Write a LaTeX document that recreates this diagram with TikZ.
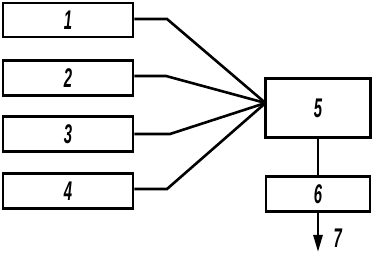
\documentclass[tikz,border=0pt]{standalone}
\usepackage{fontspec}
\setmainfont{Liberation Sans}
\usetikzlibrary{arrows.meta}
\begin{document}
\begin{tikzpicture}[x=1pt,y=-1pt,
  blk/.style={draw,line width=2.6pt,rectangle,inner sep=0pt},
  lbl/.style={font=\fontsize{27}{27}\selectfont\bfseries\itshape},
  con/.style={line width=2.6pt,line join=miter}]
\useasboundingbox (0,0) rectangle (372,253);
\node[blk,minimum width=130pt,minimum height=34pt] (b1) at (68,20) {};
\node[blk,minimum width=130pt,minimum height=35pt] (b2) at (68,78) {};
\node[blk,minimum width=130pt,minimum height=35pt] (b3) at (68,134) {};
\node[blk,minimum width=130pt,minimum height=35pt] (b4) at (68,191) {};
\node[blk,minimum width=105pt,minimum height=59pt] (b5) at (318,108) {};
\node[blk,minimum width=104pt,minimum height=35pt] (b6) at (318,194) {};
\foreach \n/\t in {b1/1,b2/2,b3/3,b4/4,b5/5,b6/6}
  \node[lbl] at (\n) {\scalebox{0.55}[1]{\t}};
\coordinate (j) at (265.5,103);
\coordinate (k1) at (167,19);
\coordinate (k2) at (166,76);
\coordinate (k3) at (170,134);
\coordinate (k4) at (167,189);
\draw[con] (b1.east |- k1) -- (k1) -- (j);
\draw[con] (b2.east |- k2) -- (k2) -- (j);
\draw[con] (b3.east |- k3) -- (k3) -- (j);
\draw[con] (b4.east |- k4) -- (k4) -- (j);
\draw[con] (b5.south) -- (b6.north);
\coordinate (out) at (318,252);
\draw[con,-{Triangle[length=17pt,width=9pt]}] (b6.south) -- (out);
\node[lbl,anchor=west] (l7) at (330,238) {\scalebox{0.55}[1]{7}};
\end{tikzpicture}
\end{document}
